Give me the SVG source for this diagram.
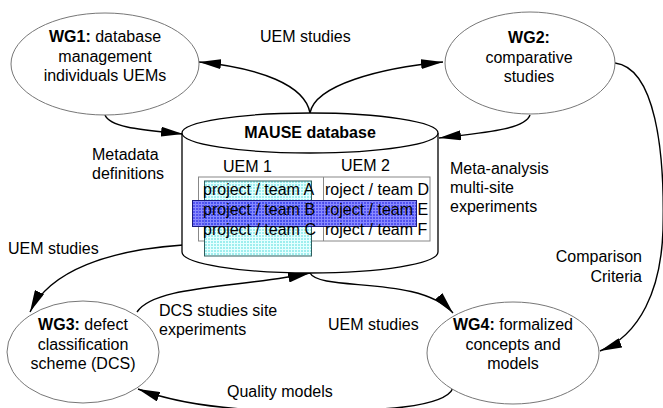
<svg xmlns="http://www.w3.org/2000/svg" width="663" height="408" viewBox="0 0 663 408">
  <style>
    .lbl { font-family: "Liberation Sans", Arial, sans-serif; font-size: 16px; fill: #000; }
    .mid { text-anchor: middle; }
    .end { text-anchor: end; }
    .b { font-weight: bold; }
    .wg { fill: #fff; stroke: #777; stroke-width: 1; }
    .db { fill: #fff; stroke: #000; stroke-width: 1.3; }
    .conn { fill: none; stroke: #000; stroke-width: 1.4; }
    .arr { marker-end: url(#head); }
    .grid { fill: none; stroke: #888; stroke-width: 1; }
  </style>
  <defs>
    <marker id="head" viewBox="0 0 22 10" refX="22" refY="5" markerWidth="22" markerHeight="10" markerUnits="userSpaceOnUse" orient="auto">
      <path d="M0,0 L22,5 L0,10 z" fill="#000"/>
    </marker>
    <pattern id="cyanGrid" width="3" height="3" patternUnits="userSpaceOnUse">
      <rect width="3" height="3" fill="#9eeeee"/>
      <path d="M0,0.5 H3 M0.5,0 V3" stroke="#e6ffff" stroke-width="1"/>
    </pattern>
    <pattern id="blueGrid" width="3" height="3" patternUnits="userSpaceOnUse">
      <rect width="3" height="3" fill="#3a3aee"/>
      <path d="M0,0.5 H3 M0.5,0 V3" stroke="#7a7aff" stroke-width="1"/>
    </pattern>
  </defs>

  <!-- connectors -->
  <g id="connectors">
    <path class="conn arr" d="M310,113 C305,85 260,68 199,62"/>
    <path class="conn arr" d="M310,113 C315,85 380,68 443,62"/>
    <path class="conn arr" d="M105,115 C110,128 145,130 183,134"/>
    <path class="conn arr" d="M530,115 C525,130 480,133 439,138"/>
    <path class="conn arr" d="M615,63 C655,68 665,150 663,230 C661,290 640,335 600,351"/>
    <path class="conn arr" d="M183,245 C110,250 50,270 30,312"/>
    <path class="conn arr" d="M137,312 C155,285 240,288 310,273"/>
    <path class="conn arr" d="M310,273 C320,292 420,275 453,313"/>
    <path class="conn arr" d="M453,388 C445,408 380,411 300,411 C220,411 170,401 138,389"/>
  </g>

  <!-- central database cylinder -->
  <g id="mause-db">
    <path class="db" d="M182,133 V252 A128,21 0 0 0 438,252 V133"/>
    <ellipse class="db" cx="310" cy="133" rx="128" ry="20"/>
    <text class="lbl b mid" x="310" y="138">MAUSE database</text>
    <text class="lbl" x="223" y="172">UEM 1</text>
    <text class="lbl" x="341" y="171">UEM 2</text>
    <rect class="grid" x="198.5" y="177" width="231.5" height="64"/>
    <line class="grid" x1="323.5" y1="177" x2="323.5" y2="241"/>
    <rect x="204.5" y="181" width="107" height="75" fill="url(#cyanGrid)" stroke="#2f5f5f" stroke-width="1"/>
    <rect x="192.5" y="200.5" width="224" height="26" fill="url(#blueGrid)" fill-opacity="0.88" stroke="#1a1a80" stroke-width="1"/>
    <text class="lbl" x="203" y="195">project / team A</text>
    <text class="lbl" x="203" y="215">project / team B</text>
    <text class="lbl" x="203" y="235">project / team C</text>
    <text class="lbl" x="325" y="195">roject / team D</text>
    <text class="lbl" x="325" y="215">roject / team E</text>
    <text class="lbl" x="325" y="235">roject / team F</text>
  </g>

  <g id="wg1">
    <ellipse class="wg" cx="105" cy="64" rx="94" ry="51"/>
    <text class="lbl mid" x="105" y="42"><tspan class="b">WG1:</tspan> database</text>
    <text class="lbl mid" x="105" y="62">management</text>
    <text class="lbl mid" x="105" y="81">individuals UEMs</text>
  </g>

  <g id="wg2">
    <ellipse class="wg" cx="530" cy="63" rx="85" ry="51"/>
    <text class="lbl b mid" x="529" y="43">WG2:</text>
    <text class="lbl mid" x="529" y="63">comparative</text>
    <text class="lbl mid" x="529" y="82">studies</text>
  </g>

  <g id="wg3">
    <ellipse class="wg" cx="83" cy="352" rx="76" ry="51"/>
    <text class="lbl mid" x="83" y="330"><tspan class="b">WG3:</tspan> defect</text>
    <text class="lbl mid" x="83" y="350">classification</text>
    <text class="lbl mid" x="83" y="369">scheme (DCS)</text>
  </g>

  <g id="wg4">
    <ellipse class="wg" cx="513" cy="353" rx="86" ry="51"/>
    <text class="lbl mid" x="513" y="330"><tspan class="b">WG4:</tspan> formalized</text>
    <text class="lbl mid" x="513" y="350">concepts and</text>
    <text class="lbl mid" x="513" y="369">models</text>
  </g>

  <!-- connector labels -->
  <g id="labels">
    <text class="lbl" x="260" y="42">UEM studies</text>
    <text class="lbl" x="92" y="160">Metadata</text>
    <text class="lbl" x="92" y="179">definitions</text>
    <text class="lbl" x="450" y="174">Meta-analysis</text>
    <text class="lbl" x="450" y="193">multi-site</text>
    <text class="lbl" x="450" y="212">experiments</text>
    <text class="lbl" x="8" y="254">UEM studies</text>
    <text class="lbl" x="159" y="316">DCS studies site</text>
    <text class="lbl" x="159" y="335">experiments</text>
    <text class="lbl" x="328" y="330">UEM studies</text>
    <text class="lbl" x="227" y="397">Quality models</text>
    <text class="lbl end" x="642" y="262">Comparison</text>
    <text class="lbl end" x="642" y="282">Criteria</text>
  </g>
</svg>
